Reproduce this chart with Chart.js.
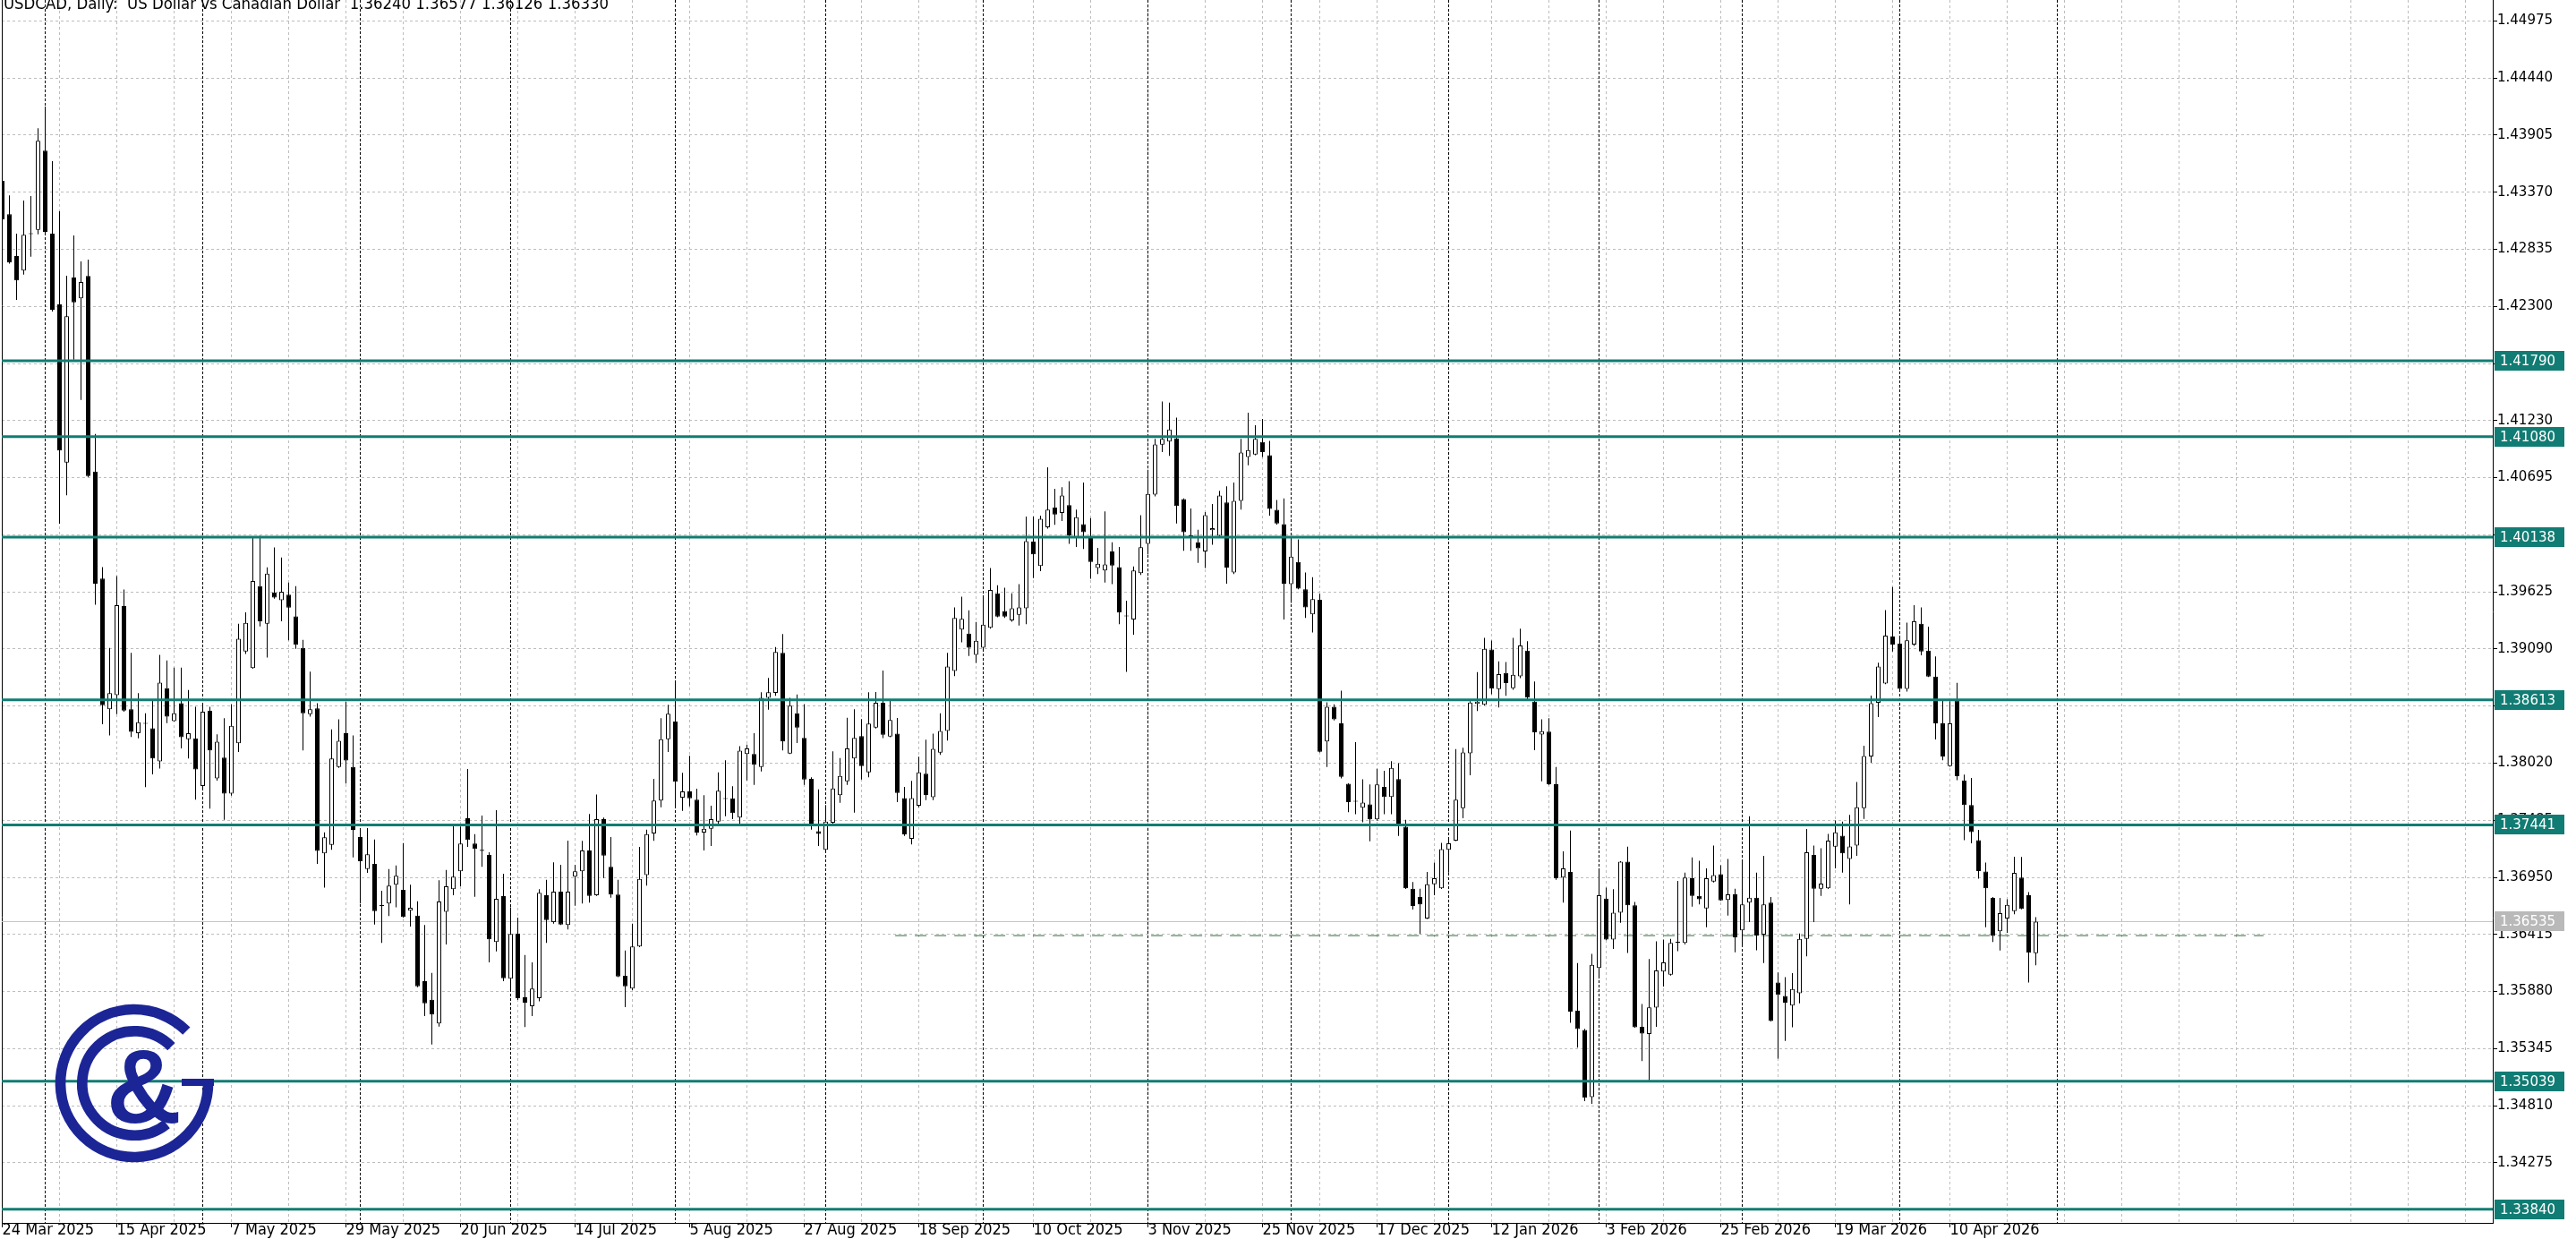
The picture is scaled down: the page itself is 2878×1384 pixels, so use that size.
<!DOCTYPE html>
<html>
<head>
<meta charset="utf-8">
<title>USDCAD Daily</title>
<script src="https://cdn.jsdelivr.net/npm/chart.js@4.4.1/dist/chart.umd.min.js"></script>
<style>
  html, body { margin: 0; padding: 0; background: #fff; overflow: hidden; }
  canvas { display: block; }
</style>
</head>
<body>
<canvas id="chart" width="2878" height="1384"></canvas>
<script>
// daily candles, 24 Mar 2025 .. 28 Apr 2026 (index 0 = first bar)
const opens = [
1.43476,1.43164,1.42772,1.42635,1.42981,1.43018,1.43759,1.42981,1.42319,1.40836,
1.42570,1.42375,1.42585,1.40753,1.39749,1.38525,1.38657,1.39491,1.38525,1.38300,
1.38394,1.38347,1.38036,1.38723,1.38413,1.38581,1.38243,1.38253,1.37806,1.38511,
1.37876,1.38073,1.37734,1.38206,1.39067,1.38911,1.39679,1.39326,1.39618,1.39547,
1.39599,1.39396,1.39100,1.38478,1.38534,1.37175,1.37254,1.37984,1.38300,1.37984,
1.37327,1.37028,1.37076,1.36684,1.36704,1.36880,1.36832,1.36637,1.36592,1.35977,
1.35803,1.35580,1.36628,1.36838,1.37006,1.37503,1.37266,1.37207,1.37160,1.36343,
1.36774,1.35999,1.36424,1.35826,1.35742,1.35817,1.36782,1.36530,1.36815,1.36503,
1.36956,1.37006,1.37201,1.36782,1.37495,1.37048,1.36788,1.36027,1.35907,1.36301,
1.36972,1.37361,1.37669,1.38244,1.38410,1.37696,1.37755,1.37677,1.37369,1.37405,
1.37472,1.37688,1.37691,1.37509,1.38105,1.38105,1.37984,1.38633,1.38678,1.39053,
1.38110,1.38488,1.38256,1.37873,1.37382,1.37207,1.37461,1.37719,1.37850,1.38063,
1.38273,1.37934,1.38353,1.38586,1.38269,1.38296,1.37692,1.37310,1.37622,1.37920,
1.37701,1.38118,1.38322,1.38883,1.39272,1.39233,1.39034,1.39102,1.39289,1.39612,
1.39446,1.39358,1.39409,1.39471,1.40095,1.39867,1.40231,1.40415,1.40364,1.40438,
1.40132,1.40259,1.40140,1.39848,1.39826,1.40004,1.39857,1.39399,1.39366,1.39800,
1.40075,1.40537,1.41003,1.41034,1.41062,1.40494,1.40154,1.40089,1.40004,1.40202,
1.40151,1.40463,1.39806,1.40477,1.40889,1.40911,1.41030,1.40906,1.40393,1.40259,
1.39697,1.39905,1.39649,1.39414,1.39551,1.38223,1.38548,1.38393,1.37826,1.37661,
1.37602,1.37633,1.37494,1.37797,1.37702,1.37871,1.37425,1.36844,1.36765,1.36565,
1.36885,1.36847,1.37209,1.37294,1.37598,1.38111,1.38575,1.38566,1.39085,1.38714,
1.38864,1.38723,1.38833,1.39075,1.38597,1.38289,1.38315,1.37822,1.36948,1.37001,
1.35700,1.35519,1.34891,1.36100,1.36750,1.36367,1.36618,1.37096,1.36687,1.35550,
1.35481,1.35729,1.36068,1.36037,1.36341,1.36335,1.36941,1.36775,1.36659,1.36910,
1.36979,1.36738,1.36790,1.36452,1.36713,1.36759,1.36414,1.36713,1.35964,1.35839,
1.35748,1.35864,1.36373,1.37159,1.36844,1.36847,1.37237,1.37341,1.37121,1.37247,
1.37598,1.38082,1.38586,1.38766,1.39207,1.39140,1.38715,1.39132,1.39326,1.39075,
1.38832,1.38392,1.37993,1.38607,1.37859,1.37628,1.37298,1.37004,1.36758,1.36444,
1.36564,1.36633,1.36947,1.36782,1.36240
];
const highs = [
1.43510,1.43340,1.42981,1.43292,1.43334,1.43969,1.44173,1.43661,1.43191,1.42587,
1.42965,1.42721,1.42738,1.41105,1.39857,1.39100,1.39773,1.39646,1.39053,1.38676,
1.38488,1.38611,1.39034,1.38982,1.38916,1.38916,1.38705,1.38549,1.38581,1.38549,
1.38290,1.38441,1.38572,1.39326,1.39434,1.40140,1.40150,1.39854,1.40041,1.39947,
1.39711,1.39679,1.39175,1.38878,1.38581,1.37372,1.38337,1.38431,1.38596,1.38280,
1.37403,1.37411,1.37305,1.36824,1.37028,1.37061,1.37271,1.36880,1.36726,1.36503,
1.36055,1.36922,1.37019,1.37453,1.37426,1.37965,1.37355,1.37529,1.37185,1.37579,
1.36983,1.36670,1.36572,1.36223,1.36153,1.36838,1.36927,1.37090,1.37067,1.37294,
1.37067,1.37291,1.37543,1.37727,1.37509,1.37328,1.36927,1.36264,1.36516,1.37235,
1.37397,1.37873,1.38441,1.38566,1.38787,1.37929,1.38088,1.37780,1.37719,1.37621,
1.37934,1.38046,1.37803,1.38180,1.38194,1.38300,1.38684,1.38818,1.39108,1.39229,
1.38633,1.38664,1.38571,1.37887,1.37774,1.37627,1.38130,1.38068,1.38446,1.38524,
1.38432,1.38684,1.38686,1.38888,1.38619,1.38444,1.37797,1.37854,1.38080,1.38240,
1.38296,1.38487,1.39054,1.39479,1.39579,1.39451,1.39343,1.39592,1.39848,1.39686,
1.39664,1.39612,1.39697,1.40330,1.40330,1.40339,1.40792,1.40591,1.40605,1.40662,
1.40395,1.40650,1.40316,1.40038,1.40378,1.40089,1.40046,1.39542,1.39863,1.40344,
1.40742,1.41059,1.41408,1.41399,1.41257,1.40500,1.40407,1.40208,1.40373,1.40449,
1.40571,1.40613,1.40650,1.41059,1.41303,1.41186,1.41246,1.41039,1.40486,1.40500,
1.40126,1.40117,1.39806,1.39763,1.39607,1.38591,1.38571,1.38699,1.37830,1.38217,
1.37869,1.37820,1.37968,1.37948,1.38039,1.38019,1.37488,1.36907,1.36844,1.37001,
1.37089,1.37272,1.37325,1.38151,1.38164,1.38600,1.38874,1.39195,1.39169,1.38974,
1.38968,1.39195,1.39279,1.39163,1.38786,1.38431,1.38441,1.37985,1.37193,1.37388,
1.36147,1.35530,1.36232,1.37033,1.36853,1.36838,1.37100,1.37237,1.36719,1.35764,
1.36185,1.36351,1.36367,1.36373,1.36916,1.36995,1.37136,1.37105,1.37033,1.37247,
1.37064,1.37121,1.36844,1.37096,1.37523,1.36995,1.37152,1.36765,1.36059,1.36014,
1.36052,1.36423,1.37404,1.37247,1.37222,1.37357,1.37482,1.37472,1.37535,1.37843,
1.38183,1.38653,1.38961,1.39455,1.39671,1.39201,1.39336,1.39500,1.39479,1.39299,
1.39021,1.38607,1.38601,1.38772,1.37912,1.37882,1.37394,1.37088,1.36765,1.36758,
1.36744,1.37142,1.37140,1.36812,1.36577
];
const lows = [
1.43091,1.42700,1.42361,1.42598,1.42766,1.42976,1.42973,1.42252,1.40263,1.40529,
1.41801,1.41424,1.40700,1.39504,1.38384,1.38280,1.38478,1.38502,1.38266,1.38253,
1.37795,1.37914,1.37970,1.38394,1.38410,1.38158,1.38064,1.37678,1.37772,1.37593,
1.37857,1.37490,1.37716,1.38125,1.39043,1.38905,1.39302,1.39010,1.39561,1.39349,
1.39170,1.39091,1.38139,1.38455,1.37076,1.36854,1.37208,1.37975,1.37829,1.37137,
1.36704,1.36992,1.36508,1.36335,1.36587,1.36670,1.36572,1.36488,1.35920,1.35650,
1.35384,1.35551,1.36321,1.36782,1.36866,1.37235,1.36768,1.37048,1.36153,1.36256,
1.35977,1.35887,1.35800,1.35546,1.35650,1.35789,1.36335,1.36516,1.36503,1.36461,
1.36684,1.36704,1.36713,1.36775,1.36941,1.36760,1.36015,1.35733,1.35893,1.36295,
1.36872,1.37291,1.37607,1.38124,1.37607,1.37573,1.37615,1.37342,1.37202,1.37244,
1.37439,1.37523,1.37495,1.37453,1.37858,1.37816,1.37942,1.38521,1.38650,1.38139,
1.38105,1.38208,1.37816,1.37397,1.37244,1.37200,1.37439,1.37649,1.37816,1.37556,
1.37867,1.37887,1.38345,1.38254,1.38263,1.37655,1.37338,1.37258,1.37607,1.37673,
1.37673,1.38098,1.38232,1.38836,1.39153,1.39025,1.38960,1.39068,1.39281,1.39386,
1.39380,1.39346,1.39309,1.39323,1.39754,1.39820,1.40217,1.40253,1.40288,1.40075,
1.40046,1.40027,1.39748,1.39791,1.39711,1.39697,1.39323,1.38875,1.39224,1.39783,
1.39976,1.40520,1.40934,1.40898,1.40265,1.40009,1.40009,1.39896,1.39848,1.40066,
1.40132,1.39701,1.39791,1.40395,1.40812,1.40906,1.40889,1.40339,1.40255,1.39366,
1.39522,1.39650,1.39380,1.39244,1.38120,1.37985,1.38420,1.37877,1.37560,1.37542,
1.37466,1.37287,1.37480,1.37542,1.37542,1.37338,1.36840,1.36649,1.36420,1.36560,
1.36782,1.36840,1.36995,1.37290,1.37504,1.37906,1.38509,1.38560,1.38666,1.38541,
1.38651,1.38707,1.38817,1.38613,1.38142,1.37850,1.37815,1.36926,1.36713,1.35587,
1.35355,1.34853,1.34827,1.36005,1.36360,1.36279,1.36524,1.36241,1.35540,1.35229,
1.35040,1.35550,1.35926,1.36030,1.36257,1.36320,1.36675,1.36697,1.36483,1.36901,
1.36730,1.36592,1.36248,1.36310,1.36530,1.36266,1.36147,1.35600,1.35251,1.35418,
1.35544,1.35770,1.36210,1.36530,1.36775,1.36840,1.37033,1.36995,1.36696,1.37152,
1.37498,1.38023,1.38451,1.38760,1.39066,1.38712,1.38691,1.39119,1.39030,1.38826,
1.38242,1.38047,1.37987,1.37861,1.37298,1.37268,1.36938,1.36483,1.36345,1.36265,
1.36429,1.36603,1.36650,1.35965,1.36126
];
const closes = [
1.43116,1.42710,1.42543,1.42971,1.42977,1.43851,1.42998,1.42268,1.40949,1.42207,
1.42338,1.42529,1.40711,1.39702,1.38563,1.38676,1.39500,1.38512,1.38314,1.38403,
1.38389,1.38064,1.38775,1.38455,1.38488,1.38262,1.38300,1.37961,1.38502,1.38139,
1.38220,1.37734,1.38370,1.39185,1.39335,1.39726,1.39349,1.39796,1.39571,1.39627,
1.39477,1.39128,1.38488,1.38525,1.37198,1.37325,1.38064,1.38229,1.38045,1.37395,
1.37101,1.37166,1.36634,1.36681,1.36872,1.36964,1.36578,1.36665,1.35929,1.35770,
1.35664,1.36723,1.36866,1.36956,1.37266,1.37300,1.37216,1.37197,1.36369,1.36748,
1.36004,1.36419,1.35817,1.35775,1.35907,1.36805,1.36550,1.36815,1.36508,1.36815,
1.37006,1.37201,1.36776,1.37495,1.37154,1.36788,1.36021,1.35929,1.36301,1.36935,
1.37355,1.37669,1.38244,1.38483,1.37845,1.37755,1.37691,1.37369,1.37405,1.37495,
1.37761,1.37684,1.37551,1.38138,1.38158,1.38004,1.38633,1.38684,1.39061,1.38222,
1.38558,1.38353,1.37867,1.37453,1.37357,1.37472,1.37783,1.37900,1.38158,1.38256,
1.37993,1.38390,1.38586,1.38286,1.38424,1.37741,1.37352,1.37692,1.37934,1.37721,
1.38154,1.38322,1.38926,1.39380,1.39372,1.39102,1.39167,1.39318,1.39643,1.39394,
1.39394,1.39471,1.39479,1.40101,1.39976,1.40310,1.40395,1.40350,1.40528,1.40154,
1.40325,1.40183,1.39905,1.39888,1.39882,1.39871,1.39431,1.39395,1.39826,1.40044,
1.40543,1.41005,1.41059,1.41147,1.40430,1.40183,1.40140,1.40032,1.40344,1.40222,
1.40528,1.39853,1.40477,1.40931,1.40954,1.41059,1.40934,1.40401,1.40265,1.39701,
1.39956,1.39655,1.39479,1.39556,1.38127,1.38548,1.38430,1.37891,1.37655,1.37658,
1.37650,1.37494,1.37820,1.37702,1.37976,1.37429,1.36847,1.36681,1.36696,1.36885,
1.36941,1.37215,1.37269,1.37677,1.38120,1.38588,1.38597,1.39091,1.38717,1.38855,
1.38770,1.38849,1.39123,1.38635,1.38308,1.38320,1.37822,1.36941,1.37033,1.35691,
1.35528,1.34884,1.36131,1.36782,1.36367,1.36618,1.37096,1.36687,1.35544,1.35487,
1.35732,1.36077,1.36153,1.36335,1.36337,1.36948,1.36775,1.36744,1.36941,1.36970,
1.36734,1.36790,1.36389,1.36696,1.36759,1.36405,1.36696,1.35603,1.35848,1.35776,
1.35904,1.36373,1.37184,1.36844,1.36891,1.37294,1.37372,1.37174,1.37240,1.37607,
1.38086,1.38581,1.38925,1.39215,1.39131,1.38715,1.39170,1.39350,1.39066,1.38832,
1.38392,1.38083,1.38392,1.37897,1.37628,1.37373,1.37008,1.36848,1.36400,1.36614,
1.36693,1.36992,1.36654,1.36244,1.36535
];

// axis text
const dateLabels = ['24 Mar 2025', '15 Apr 2025', '7 May 2025', '29 May 2025', '20 Jun 2025', '14 Jul 2025',
  '5 Aug 2025', '27 Aug 2025', '18 Sep 2025', '10 Oct 2025', '3 Nov 2025', '25 Nov 2025', '17 Dec 2025',
  '12 Jan 2026', '3 Feb 2026', '25 Feb 2026', '19 Mar 2026', '10 Apr 2026'];
const yTicks = [1.44975, 1.44440, 1.43905, 1.43370, 1.42835, 1.42300, 1.41765, 1.41230, 1.40695, 1.40160,
  1.39625, 1.39090, 1.38555, 1.38020, 1.37485, 1.36950, 1.36415, 1.35880, 1.35345, 1.34810, 1.34275];

// horizontal levels drawn on the chart
const levels = [1.41790, 1.41080, 1.40138, 1.38613, 1.37441, 1.35039, 1.33840];
const bidPrice = 1.36535;
const dashLevel = 1.36404;
const dashFrom = 124.7;
const dashTo = 315.8;
// first bar of each month (period separators)
const monthStarts = [6, 28, 50, 71, 94, 115, 137, 160, 180, 202, 223, 243, 265, 287];

const titleText = 'USDCAD, Daily:  US Dollar vs Canadian Dollar  1.36240 1.36577 1.36126 1.36330';

const TEAL = '#117c73';
const NARROW = '"Liberation Sans Narrow", "DejaVu Sans Condensed", "Liberation Sans", sans-serif';

// pick a date font size so that '24 Mar 2025' is about 104px wide
const mctx = document.createElement('canvas').getContext('2d');
mctx.font = '20px ' + NARROW;
const dateSize = Math.round(20 * 104 / mctx.measureText('24 Mar 2025').width);

const gridIdx = [];
for (let i = 0; i <= 344; i += 8) gridIdx.push(i);

const bodies = opens.map((o, i) => ({x: i, y: [o, closes[i]]}));
const wicks = lows.map((l, i) => ({x: i, y: [l, highs[i]]}));

const levelSets = levels.map(lv => ({
  type: 'line',
  data: [{x: -2, y: lv}, {x: 400, y: lv}],
  borderColor: TEAL,
  borderWidth: 3,
  pointRadius: 0,
  fill: false,
  order: 0
}));

const overlay = {
  id: 'overlay',
  beforeDatasetsDraw(chart) {
    const {ctx, chartArea: a, scales: {x}} = chart;
    ctx.save();
    ctx.lineWidth = 1;
    ctx.strokeStyle = '#000';
    ctx.setLineDash([3, 2]);
    monthStarts.forEach(i => {
      const px = Math.floor(x.getPixelForValue(i)) + 0.5;
      ctx.beginPath();
      ctx.moveTo(px, a.top);
      ctx.lineTo(px, a.bottom);
      ctx.stroke();
    });
    ctx.setLineDash([]);
    ctx.beginPath();
    ctx.moveTo(a.left + 0.5, a.top);
    ctx.lineTo(a.left + 0.5, a.bottom);
    ctx.stroke();
    ctx.restore();
  },
  afterDatasetsDraw(chart) {
    // logo, bottom left
    const ctx = chart.ctx;
    const cx = 150, cy = 1210;
    ctx.save();
    ctx.strokeStyle = '#1c2596';
    ctx.fillStyle = '#1c2596';
    ctx.lineWidth = 11.7;
    ctx.lineCap = 'butt';
    ctx.beginPath();
    ctx.arc(cx, cy, 82.5, -0.02, Math.PI * 2 - Math.PI / 4);
    ctx.stroke();
    ctx.beginPath();
    ctx.arc(cx, cy, 58.2, 0.9, Math.PI * 2 - 0.78);
    ctx.stroke();
    ctx.fillRect(203, 1205, 36, 8);
    ctx.font = 'bold 116px "Liberation Sans", sans-serif';
    ctx.textAlign = 'center';
    ctx.textBaseline = 'alphabetic';
    ctx.fillText('&', 161, 1254);
    ctx.restore();
  },
  afterDraw(chart) {
    const {ctx, scales: {y}} = chart;
    ctx.save();
    ctx.font = '15px "DejaVu Sans", sans-serif';
    ctx.textBaseline = 'middle';
    ctx.textAlign = 'left';
    const box = (v, bg) => {
      const py = Math.round(y.getPixelForValue(v));
      ctx.fillStyle = bg;
      ctx.fillRect(2787, py - 11, 78, 22);
      ctx.fillStyle = '#fff';
      ctx.fillText(v.toFixed(5), 2793, py + 1);
    };
    box(bidPrice, '#b9b9b9');
    levels.forEach(v => box(v, TEAL));

    // title, cut by the top edge like the original
    ctx.font = '20px ' + NARROW;
    const w = ctx.measureText(titleText).width;
    ctx.font = (20 * 678 / w).toFixed(1) + 'px ' + NARROW;
    ctx.fillStyle = '#000';
    ctx.textBaseline = 'alphabetic';
    ctx.fillText(titleText, 4, 10);
    ctx.restore();
  }
};

Chart.defaults.font.family = '"DejaVu Sans", sans-serif';

new Chart(document.getElementById('chart'), {
  type: 'bar',
  data: {
    datasets: [
      ...levelSets,
      {
        label: 'body',
        data: bodies,
        backgroundColor: c => closes[c.dataIndex] >= opens[c.dataIndex] ? '#ffffff' : '#000000',
        borderColor: '#000',
        borderWidth: 1,
        borderSkipped: false,
        barThickness: 5,
        minBarLength: 1,
        inflateAmount: 0,
        grouped: false,
        order: 1
      },
      {
        label: 'wick',
        data: wicks,
        backgroundColor: '#000',
        borderWidth: 0,
        barThickness: 1,
        inflateAmount: 0,
        grouped: false,
        order: 2
      },
      {
        type: 'line',
        data: [{x: -2, y: bidPrice}, {x: 400, y: bidPrice}],
        borderColor: '#c4c4c4',
        borderWidth: 1,
        pointRadius: 0,
        fill: false,
        order: 3
      },
      {
        type: 'line',
        data: [{x: dashFrom, y: dashLevel}, {x: dashTo, y: dashLevel}],
        borderColor: '#2f6d3c',
        borderWidth: 1,
        borderDash: [13, 9],
        pointRadius: 0,
        fill: false,
        order: 3
      }
    ]
  },
  options: {
    responsive: false,
    animation: false,
    devicePixelRatio: 1,
    events: [],
    layout: {padding: {left: 2, right: 0, top: 0, bottom: 0}},
    plugins: {legend: {display: false}, tooltip: {enabled: false}},
    scales: {
      x: {
        type: 'linear',
        min: -0.0625,
        max: 347.8125,
        offset: false,
        afterFit: s => { s.height = 18; s.paddingLeft = 0; s.paddingRight = 0; },
        afterBuildTicks: s => { s.ticks = gridIdx.map(v => ({value: v})); },
        grid: {
          color: '#bdbdbd',
          lineWidth: 1,
          offset: false,
          drawTicks: true,
          tickLength: 5,
          tickColor: c => (c.tick && c.tick.value % 16 === 0 && c.tick.value <= 272) ? '#000' : 'rgba(0,0,0,0)'
        },
        border: {display: true, color: '#000', width: 1, dash: [3, 3]},
        ticks: {
          autoSkip: false,
          maxRotation: 0,
          minRotation: 0,
          align: 'start',
          padding: -3 - 0.13 * dateSize,
          color: '#000',
          font: {family: NARROW, size: dateSize, lineHeight: 1},
          callback: v => (v % 16 === 0 && v / 16 < dateLabels.length) ? dateLabels[v / 16] : ''
        }
      },
      y: {
        type: 'linear',
        position: 'right',
        min: 1.33712,
        max: 1.45171,
        beginAtZero: false,
        afterFit: s => { s.width = 93; s.paddingTop = 0; s.paddingBottom = 0; },
        afterBuildTicks: s => { s.ticks = yTicks.map(v => ({value: v})); },
        grid: {color: '#bdbdbd', lineWidth: 1, drawTicks: true, tickLength: 5, tickColor: '#000'},
        border: {display: true, color: '#000', width: 1, dash: [3, 3]},
        ticks: {
          autoSkip: false,
          crossAlign: 'near',
          padding: 0,
          color: '#000',
          font: {size: 15},
          callback: v => v.toFixed(5)
        }
      }
    }
  },
  plugins: [overlay]
});
</script>
</body>
</html>
